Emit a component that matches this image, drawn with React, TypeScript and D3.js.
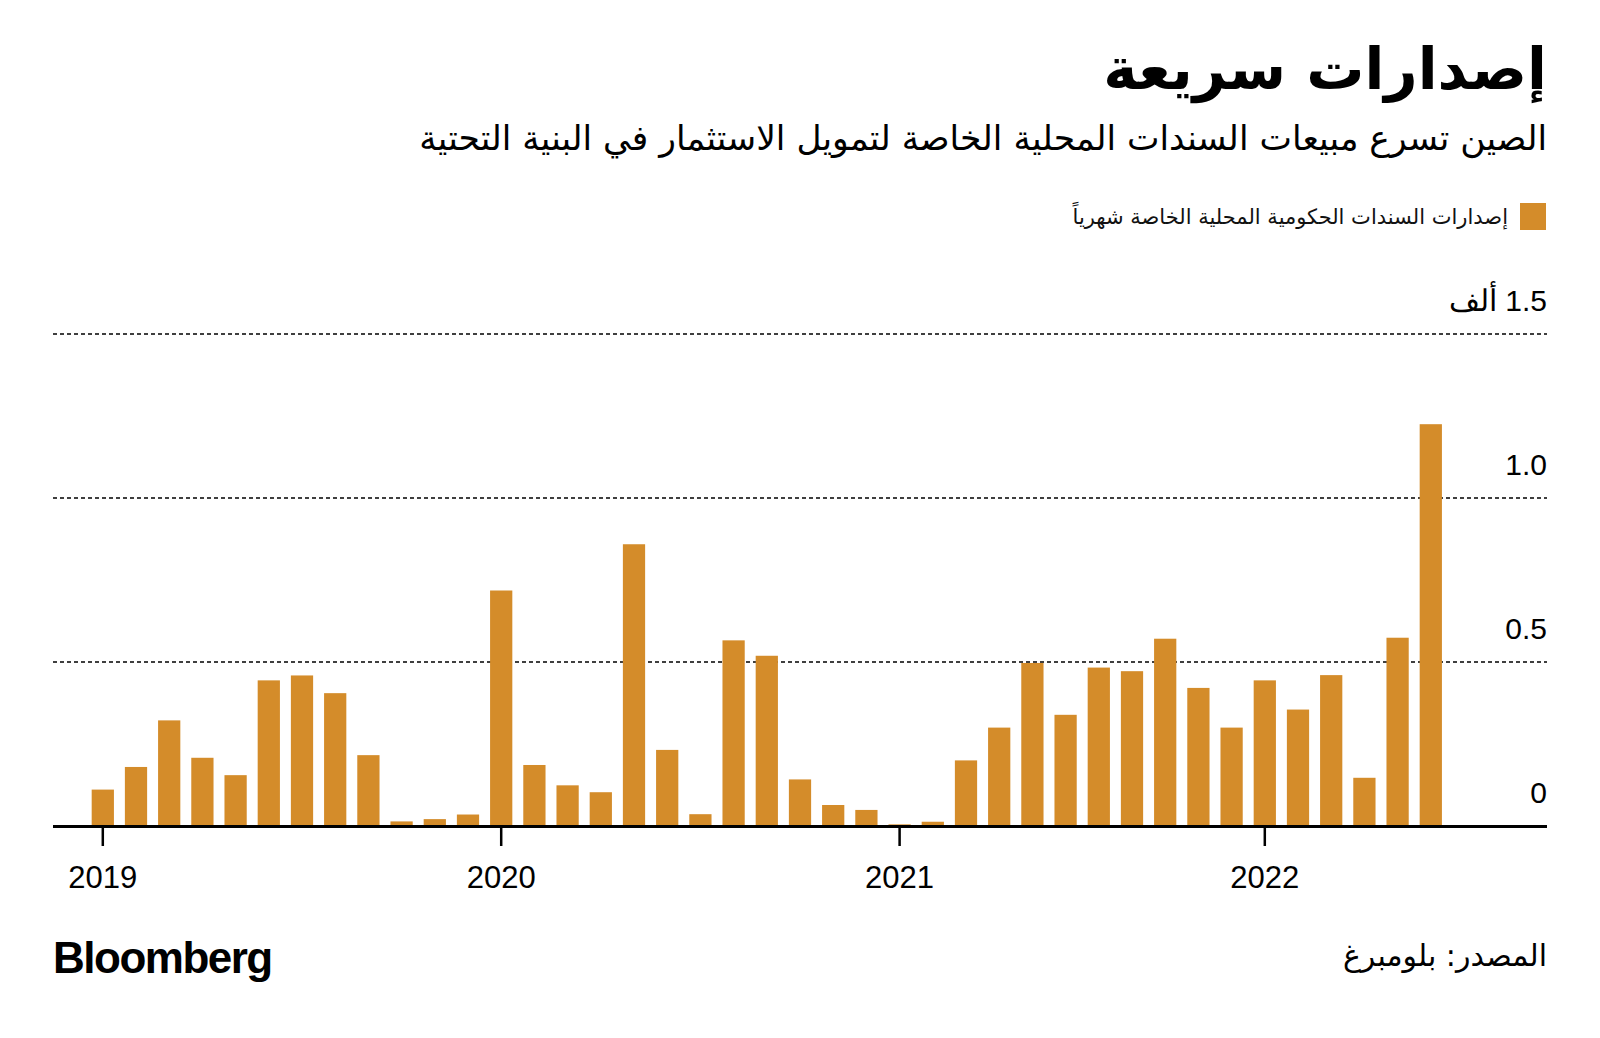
import React from "react";
import * as d3 from "d3";

const months: string[] = [
  "2019-01","2019-02","2019-03","2019-04","2019-05","2019-06","2019-07","2019-08","2019-09","2019-10","2019-11","2019-12",
  "2020-01","2020-02","2020-03","2020-04","2020-05","2020-06","2020-07","2020-08","2020-09","2020-10","2020-11","2020-12",
  "2021-01","2021-03","2021-04","2021-05","2021-06","2021-07","2021-08","2021-09","2021-10","2021-11","2021-12",
  "2022-01","2022-02","2022-03","2022-04","2022-05","2022-06",
];

// Monthly special local government bond issuance (thousand units)
const issuance: number[] = [
  0.111, 0.180, 0.322, 0.208, 0.155, 0.444, 0.459, 0.405, 0.216, 0.014, 0.021, 0.035,
  0.718, 0.186, 0.124, 0.103, 0.859, 0.232, 0.036, 0.566, 0.519, 0.142, 0.064, 0.049,
  0.005, 0.013, 0.200, 0.300, 0.497, 0.339, 0.483, 0.472, 0.571, 0.421, 0.300,
  0.444, 0.355, 0.460, 0.147, 0.574, 1.225,
];

const xTickMonths: string[] = ["2019-01", "2020-01", "2021-01", "2022-01"];
const xTickLabels: string[] = ["2019", "2020", "2021", "2022"];
const yTicks: number[] = [0, 0.5, 1.0, 1.5];
const yTickLabels: string[] = ["0", "0.5", "1.0", "1.5 ألف"];

const title = "إصدارات سريعة";
const subtitle = "الصين تسرع مبيعات السندات المحلية الخاصة لتمويل الاستثمار في البنية التحتية";
const legendLabel = "إصدارات السندات الحكومية المحلية الخاصة شهرياً";
const source = "المصدر: بلومبرغ";

const BAR = "#D48C2A";
const W = 1600;
const H = 1038;
const LEFT = 53;
const RIGHT = 1547;
const BASE = 826;
const TOP = 334;

export default function App() {
  const x = d3
    .scaleBand<string>()
    .domain(months)
    .range([86.2, 86.2 + months.length * 33.2])
    .paddingInner(0.33)
    .paddingOuter(0.165);
  const y = d3.scaleLinear().domain([0, 1.5]).range([BASE, TOP]);
  const arab = "'DejaVu Sans', 'Noto Sans', sans-serif";
  const latin = "'Liberation Sans', Arial, sans-serif";

  return (
    <svg
      width={W}
      height={H}
      style={{ position: "absolute", left: 0, top: 0, background: "#fff" }}
    >
      <rect x={0} y={0} width={W} height={H} fill="#fff" />
      <text x={RIGHT} y={89} direction="rtl" textAnchor="start" fontFamily={arab} fontWeight={700} fontSize={58} fill="#000">
        {title}
      </text>
      <text x={RIGHT} y={150} direction="rtl" textAnchor="start" fontFamily={arab} fontSize={34.5} fill="#000">
        {subtitle}
      </text>

      <rect x={1520} y={203} width={26} height={27} fill={BAR} />
      <text x={1508} y={224} direction="rtl" textAnchor="start" fontFamily={arab} fontSize={21} fill="#111">
        {legendLabel}
      </text>

      {yTicks.filter((t) => t > 0).map((t) => (
        <line key={"g" + t} x1={LEFT} x2={RIGHT} y1={y(t)} y2={y(t)} stroke="#000" strokeWidth={1.5} strokeDasharray="4 3" />
      ))}
      {yTicks.map((t, i) => (
        <text key={"yl" + t} x={RIGHT} y={y(t) - 23} direction="rtl" textAnchor="start" fontFamily={latin} fontSize={30} fill="#000">
          {yTickLabels[i]}
        </text>
      ))}

      {months.map((m, i) => (
        <rect key={m} x={x(m)} y={y(issuance[i])} width={x.bandwidth()} height={BASE - y(issuance[i])} fill={BAR} />
      ))}

      <line x1={LEFT} x2={RIGHT} y1={BASE + 0.5} y2={BASE + 0.5} stroke="#000" strokeWidth={3} />
      {xTickMonths.map((m, i) => {
        const cx = (x(m) as number) + x.bandwidth() / 2;
        return (
          <g key={m}>
            <line x1={cx} x2={cx} y1={BASE} y2={BASE + 20} stroke="#000" strokeWidth={2.5} />
            <text x={cx} y={888} textAnchor="middle" fontFamily={latin} fontSize={31} fill="#000">
              {xTickLabels[i]}
            </text>
          </g>
        );
      })}

      <text x={53} y={973} fontFamily={latin} fontWeight={700} fontSize={44} letterSpacing={-1.5} fill="#000">
        Bloomberg
      </text>
      <text x={RIGHT} y={966} direction="rtl" textAnchor="start" fontFamily={arab} fontSize={30} fill="#000">
        {source}
      </text>
    </svg>
  );
}
